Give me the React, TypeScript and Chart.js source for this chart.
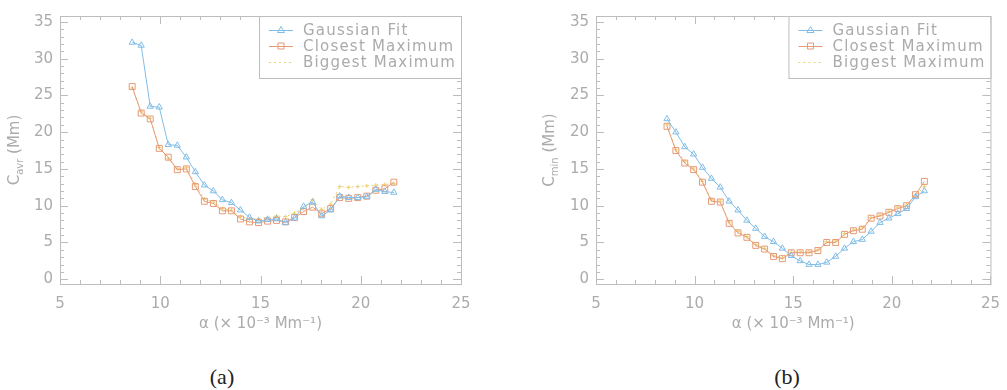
import { useEffect, useRef } from "react";
import { Chart, registerables } from "chart.js";

Chart.register(...registerables);

// Wavenumber samples (× 10⁻³ Mm⁻¹)
const alpha = [
  8.6, 9.05, 9.5, 9.95, 10.4, 10.85, 11.3, 11.75, 12.2, 12.65, 13.1, 13.55, 14.0, 14.45, 14.9,
  15.35, 15.8, 16.25, 16.7, 17.15, 17.6, 18.05, 18.5, 18.95, 19.4, 19.85, 20.3, 20.75, 21.2, 21.65,
];

// Panel (a): C_avr (Mm)
const avrGaussian = [
  32.2, 31.8, 23.5, 23.4, 18.3, 18.2, 16.6, 14.6, 12.8, 12.0, 10.8, 10.4, 9.4, 8.4, 7.9,
  8.1, 8.2, 7.7, 8.3, 9.9, 10.5, 8.6, 9.4, 11.3, 11.1, 11.1, 11.2, 12.2, 11.9, 11.8,
];
const avrClosest = [
  26.2, 22.6, 21.8, 17.8, 16.6, 14.9, 15.0, 12.6, 10.6, 10.3, 9.3, 9.3, 8.2, 7.8, 7.7,
  7.9, 8.0, 7.8, 8.4, 9.2, 9.8, 8.9, 9.6, 11.1, 11.0, 11.1, 11.3, 12.1, 12.3, 13.2,
];
const avrBiggest = [
  26.0, 22.8, 21.9, 17.9, 16.4, 15.0, 15.2, 12.9, 10.9, 10.5, 9.6, 9.4, 8.5, 8.2, 8.2,
  8.4, 8.6, 8.5, 9.0, 9.6, 10.8, 9.5, 10.2, 12.6, 12.5, 12.6, 12.7, 12.8, 12.9, 13.0,
];

// Panel (b): C_min (Mm)
const minGaussian = [
  21.8, 20.0, 18.0, 17.0, 15.2, 13.7, 12.5, 10.6, 9.4, 8.0, 6.9, 5.8, 5.1, 4.2, 3.2,
  2.5, 2.0, 2.0, 2.3, 3.1, 4.2, 5.1, 5.4, 6.5, 7.7, 8.3, 8.9, 9.6, 11.2, 12.0,
];
const minClosest = [
  20.8, 17.5, 15.8, 14.9, 13.2, 10.6, 10.5, 7.6, 6.3, 5.7, 4.6, 4.1, 3.1, 2.8, 3.6,
  3.6, 3.6, 3.9, 5.0, 5.0, 6.1, 6.6, 6.8, 8.3, 8.6, 9.1, 9.6, 10.0, 11.5, 13.3,
];
const minBiggest = [
  21.0, 17.6, 16.0, 15.0, 13.3, 10.8, 10.6, 7.8, 6.5, 5.8, 4.7, 4.2, 3.2, 2.9, 3.7,
  3.7, 3.7, 4.0, 5.1, 5.2, 6.2, 6.7, 7.0, 8.4, 8.7, 9.2, 9.8, 10.1, 11.4, 12.6,
];

const seriesNames = ["Gaussian Fit", "Closest Maximum", "Biggest Maximum"];
const xMajorTicks = [5, 10, 15, 20, 25];
const yMajorTicks = [0, 5, 10, 15, 20, 25, 30, 35];
const xAxisTitle = "α (× 10⁻³ Mm⁻¹)";

const BLUE = "#80bde8";
const ORANGE = "#e69a76";
const YELLOW = "#eed06e";
const AXIS = "#bdbdbd";
const TEXT = "#ababab";
const FONT = "'DejaVu Sans', sans-serif";

type PanelSpec = {
  sub: string;
  gaussian: number[];
  closest: number[];
  biggest: number[];
  padLeft: number;
  padRight: number;
  titleX: number;
};

function toPoints(values: number[]) {
  return alpha.map((x, i) => ({ x, y: values[i] }));
}

// Box frame with inward major/minor ticks on all four sides
const framePlugin = {
  id: "frameTicks",
  afterDatasetsDraw(chart: any) {
    const { ctx, chartArea: a, scales } = chart;
    const xs = scales.x;
    const ys = scales.y;
    ctx.save();
    ctx.strokeStyle = AXIS;
    ctx.lineWidth = 1;
    ctx.strokeRect(a.left + 0.5, a.top + 0.5, a.right - a.left, a.bottom - a.top);
    ctx.beginPath();
    for (let v = 5; v <= 25; v += 1) {
      const px = Math.round(xs.getPixelForValue(v)) + 0.5;
      const len = v % 5 === 0 ? 8 : 4;
      ctx.moveTo(px, a.bottom);
      ctx.lineTo(px, a.bottom - len);
      ctx.moveTo(px, a.top);
      ctx.lineTo(px, a.top + len);
    }
    for (let v = 0; v <= 35; v += 1) {
      const py = Math.round(ys.getPixelForValue(v)) + 0.5;
      const len = v % 5 === 0 ? 8 : 4;
      ctx.moveTo(a.left, py);
      ctx.lineTo(a.left + len, py);
      ctx.moveTo(a.right, py);
      ctx.lineTo(a.right - len, py);
    }
    ctx.stroke();
    ctx.restore();
  },
};

// Framed legend in the upper-right corner plus the rotated y-axis title
const legendPlugin = {
  id: "boxLegend",
  afterDraw(chart: any) {
    const { ctx, chartArea: a } = chart;
    const opts = chart.options.plugins.boxLegend;
    const w = 202;
    const h = 62;
    const left = a.right - w;
    const top = a.top;
    ctx.save();
    ctx.fillStyle = "#ffffff";
    ctx.fillRect(left, top, w, h);
    ctx.strokeStyle = AXIS;
    ctx.lineWidth = 1;
    ctx.strokeRect(left + 0.5, top + 0.5, w, h);
    chart.data.datasets.forEach((ds: any, i: number) => {
      const cy = top + 14 + i * 16;
      ctx.strokeStyle = ds.borderColor;
      ctx.lineWidth = 1;
      ctx.setLineDash(ds.borderDash || []);
      ctx.beginPath();
      ctx.moveTo(left + 10, cy + 0.5);
      ctx.lineTo(left + 34, cy + 0.5);
      ctx.stroke();
      ctx.setLineDash([]);
      const mx = left + 22;
      ctx.beginPath();
      if (ds.pointStyle === "triangle") {
        ctx.moveTo(mx, cy - 3.5);
        ctx.lineTo(mx + 3.5, cy + 2.5);
        ctx.lineTo(mx - 3.5, cy + 2.5);
        ctx.closePath();
      } else if (ds.pointStyle === "rect") {
        ctx.rect(mx - 3, cy - 3, 6, 6);
      }
      ctx.stroke();
      ctx.fillStyle = TEXT;
      ctx.font = `15px ${FONT}`;
      ctx.letterSpacing = "1.2px";
      ctx.textBaseline = "middle";
      ctx.textAlign = "left";
      ctx.fillText(ds.label, left + 44, cy + 1);
      ctx.letterSpacing = "0px";
    });

    // y-axis title: C with subscript, then (Mm)
    const cx = opts.titleX;
    const cyMid = (a.top + a.bottom) / 2;
    ctx.translate(cx, cyMid);
    ctx.rotate(-Math.PI / 2);
    ctx.fillStyle = TEXT;
    ctx.textBaseline = "middle";
    ctx.textAlign = "left";
    const big = `15px ${FONT}`;
    const small = `10px ${FONT}`;
    ctx.font = big;
    const wC = ctx.measureText("C").width;
    const wTail = ctx.measureText(" (Mm)").width;
    ctx.font = small;
    const wSub = ctx.measureText(opts.sub).width;
    let x = -(wC + wSub + wTail) / 2;
    ctx.font = big;
    ctx.fillText("C", x, 0);
    x += wC;
    ctx.font = small;
    ctx.fillText(opts.sub, x, 5);
    x += wSub;
    ctx.font = big;
    ctx.fillText(" (Mm)", x, 0);
    ctx.restore();
  },
};

function Panel({ spec }: { spec: PanelSpec }) {
  const ref = useRef<HTMLCanvasElement | null>(null);
  useEffect(() => {
    if (!ref.current) return;
    const chart = new Chart(ref.current, {
      type: "line",
      data: {
        datasets: [
          {
            label: seriesNames[0],
            data: toPoints(spec.gaussian),
            borderColor: BLUE,
            backgroundColor: "rgba(0,0,0,0)",
            borderWidth: 1,
            pointStyle: "triangle",
            pointRadius: 3.6,
            pointBorderWidth: 1,
            pointBackgroundColor: "rgba(0,0,0,0)",
            pointBorderColor: BLUE,
          },
          {
            label: seriesNames[1],
            data: toPoints(spec.closest),
            borderColor: ORANGE,
            backgroundColor: "rgba(0,0,0,0)",
            borderWidth: 1,
            pointStyle: "rect",
            pointRadius: 4.2,
            pointBorderWidth: 1,
            pointBackgroundColor: "rgba(0,0,0,0)",
            pointBorderColor: ORANGE,
          },
          {
            label: seriesNames[2],
            data: toPoints(spec.biggest),
            borderColor: YELLOW,
            backgroundColor: "rgba(0,0,0,0)",
            borderWidth: 1,
            borderDash: [2, 3],
            pointStyle: "cross",
            pointRadius: 2,
            pointBorderWidth: 1,
            pointBorderColor: YELLOW,
          },
        ],
      },
      options: {
        animation: false,
        responsive: false,
        maintainAspectRatio: false,
        events: [],
        layout: { padding: { left: spec.padLeft, right: spec.padRight, top: 9, bottom: 0 } },
        plugins: {
          legend: { display: false },
          tooltip: { enabled: false },
          boxLegend: { sub: spec.sub, titleX: spec.titleX },
        } as any,
        scales: {
          x: {
            type: "linear",
            min: 5,
            max: 25,
            afterBuildTicks: (s: any) => {
              s.ticks = xMajorTicks.map((value) => ({ value }));
            },
            afterFit: (s: any) => {
              s.height = 61;
            },
            grid: { display: false, drawTicks: false },
            border: { display: false },
            ticks: {
              color: TEXT,
              font: { family: FONT, size: 15 },
              padding: 11,
              maxRotation: 0,
              autoSkip: false,
            },
            title: {
              display: true,
              text: xAxisTitle,
              color: TEXT,
              font: { family: FONT, size: 15 },
              padding: { top: 0, bottom: 12 },
            },
          },
          y: {
            type: "linear",
            min: -0.65,
            max: 35.8,
            afterBuildTicks: (s: any) => {
              s.ticks = yMajorTicks.map((value) => ({ value }));
            },
            afterFit: (s: any) => {
              s.width = 52;
            },
            grid: { display: false, drawTicks: false },
            border: { display: false },
            ticks: {
              color: TEXT,
              font: { family: FONT, size: 15 },
              padding: 7,
              autoSkip: false,
            },
          },
        },
      },
      plugins: [framePlugin, legendPlugin],
    } as any);
    return () => chart.destroy();
  }, [spec]);
  return <canvas ref={ref} width={spec.padLeft + 52 + 401 + spec.padRight} height={345} />;
}

const panelA: PanelSpec = {
  sub: "avr",
  gaussian: avrGaussian,
  closest: avrClosest,
  biggest: avrBiggest,
  padLeft: 8,
  padRight: 39,
  titleX: 15,
};

const panelB: PanelSpec = {
  sub: "min",
  gaussian: minGaussian,
  closest: minClosest,
  biggest: minBiggest,
  padLeft: 44,
  padRight: 14,
  titleX: 50,
};

const captionStyle: any = {
  position: "absolute",
  top: 377,
  transform: "translate(-50%, -50%)",
  fontFamily: "'Liberation Serif', 'Times New Roman', serif",
  fontSize: 22,
  lineHeight: 1,
  color: "#222",
};

export default function App() {
  return (
    <div
      style={{
        position: "absolute",
        left: 0,
        top: 0,
        width: 1007,
        height: 390,
        background: "#ffffff",
        overflow: "hidden",
      }}
    >
      <div style={{ position: "absolute", left: 0, top: 0 }}>
        <Panel spec={panelA} />
      </div>
      <div style={{ position: "absolute", left: 500, top: 0 }}>
        <Panel spec={panelB} />
      </div>
      <div style={{ ...captionStyle, left: 222 }}>(a)</div>
      <div style={{ ...captionStyle, left: 787 }}>(b)</div>
    </div>
  );
}
